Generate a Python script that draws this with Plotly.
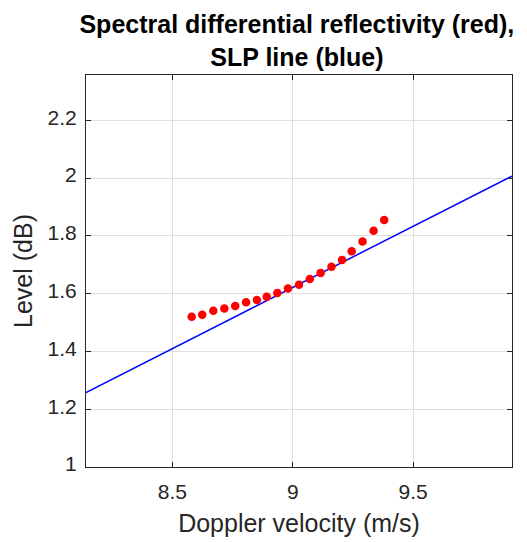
import plotly.graph_objects as go

# Red points: spectral differential reflectivity
vel = [8.580, 8.624, 8.670, 8.716, 8.761, 8.806, 8.851, 8.892, 8.936, 8.980,
       9.026, 9.071, 9.116, 9.161, 9.205, 9.245, 9.290, 9.336, 9.380]
zdr = [1.520, 1.527, 1.541, 1.549, 1.557, 1.570, 1.578, 1.589, 1.602, 1.618,
       1.631, 1.651, 1.672, 1.693, 1.717, 1.747, 1.781, 1.818, 1.855]

# Blue SLP line endpoints
slp_x = [8.141, 9.911]
slp_y = [1.258, 2.007]

x_range = [8.141, 9.911]
y_range = [1.0, 2.357]
x_ticks = [8.5, 9, 9.5]
x_ticklabels = ["8.5", "9", "9.5"]
y_ticks = [1, 1.2, 1.4, 1.6, 1.8, 2, 2.2]
y_ticklabels = ["1", "1.2", "1.4", "1.6", "1.8", "2", "2.2"]

FONT = "Liberation Sans, Arial, sans-serif"
AX = "#262626"

fig = go.Figure()
fig.add_trace(go.Scatter(x=slp_x, y=slp_y, mode="lines",
                         line=dict(color="#0000ff", width=1.5),
                         showlegend=False, cliponaxis=True))
fig.add_trace(go.Scatter(x=vel, y=zdr, mode="markers",
                         marker=dict(color="#ff0000", size=8.5, line=dict(width=0)),
                         showlegend=False))

axis_common = dict(showline=True, linecolor=AX, linewidth=1, mirror="allticks",
                   ticks="inside", ticklen=5, tickcolor=AX, showgrid=True,
                   gridcolor="#dfdfdf", gridwidth=1, zeroline=False,
                   automargin=False,
                   tickfont=dict(family=FONT, size=21, color=AX))

fig.update_layout(
    width=527, height=542,
    margin=dict(l=86, r=15, t=75, b=75),
    paper_bgcolor="white", plot_bgcolor="white",
    title=dict(text="<b>Spectral differential reflectivity (red),<br>SLP line (blue)</b>",
               font=dict(family=FONT, size=25, color="#000000"),
               x=0.495, xanchor="center", xref="paper",
               y=1 - 33 / 542, yanchor="top", yref="container"),
    xaxis=dict(range=x_range, tickvals=x_ticks, ticktext=x_ticklabels,
               title=dict(text="Doppler velocity (m/s)",
                          font=dict(family=FONT, size=25, color=AX), standoff=12),
               ticklabelstandoff=6, **axis_common),
    yaxis=dict(range=y_range, tickvals=y_ticks, ticktext=y_ticklabels,
               title=dict(text="Level (dB)",
                          font=dict(family=FONT, size=25, color=AX), standoff=7),
               ticklabelstandoff=4, ticklabelshift=-3, **axis_common),
)

fig.write_html("out.html")
